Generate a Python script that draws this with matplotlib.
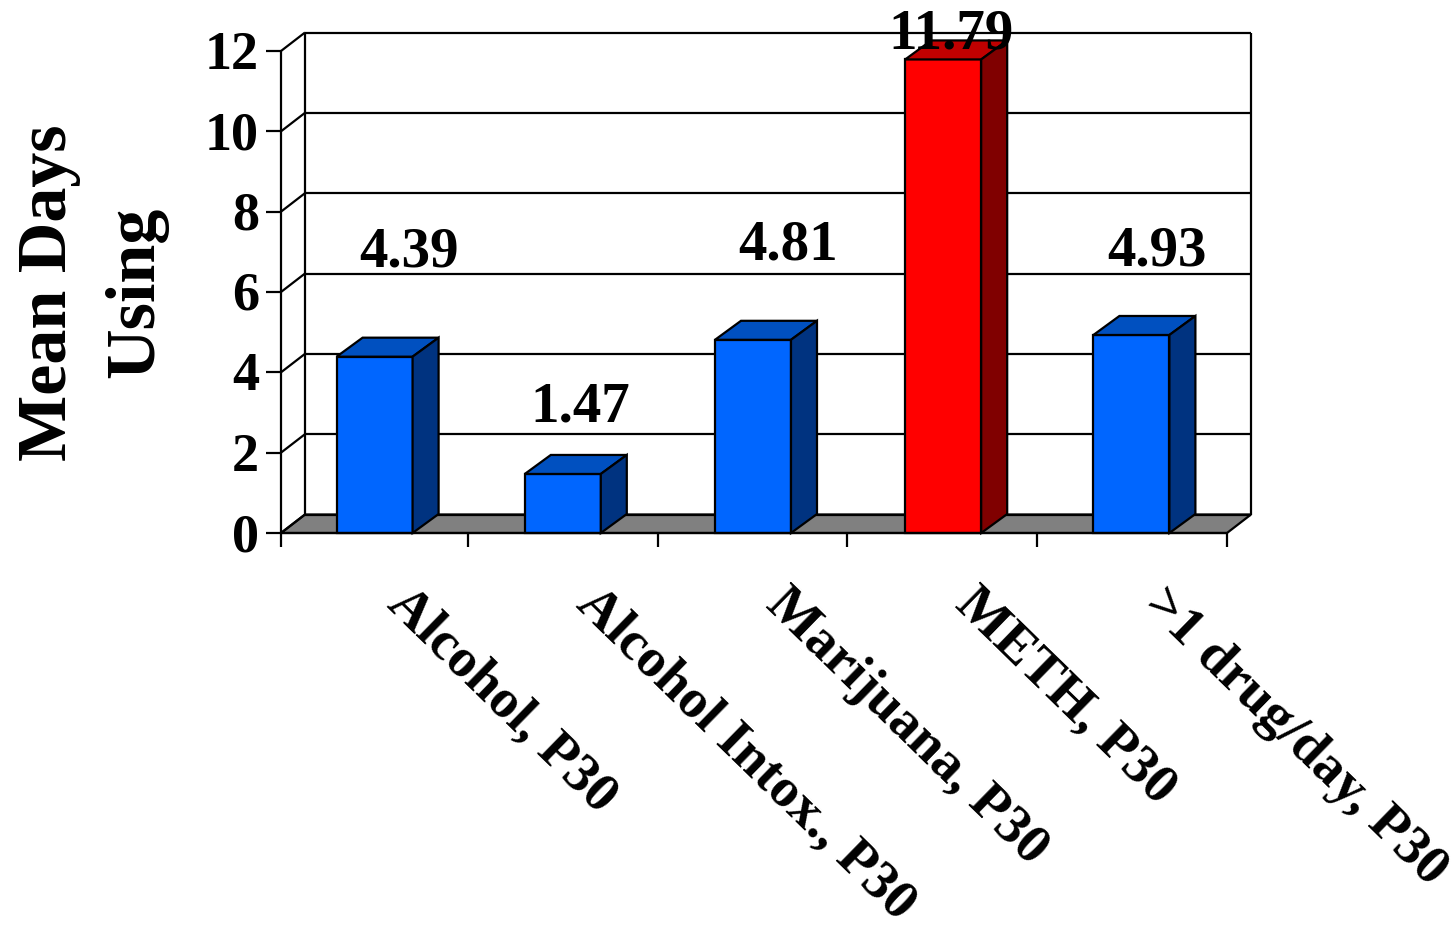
import matplotlib
matplotlib.use("Agg")
import matplotlib.pyplot as plt
from matplotlib.patches import Polygon

plt.rcParams["font.family"] = ["Liberation Serif", "DejaVu Serif"]
plt.rcParams["font.weight"] = "bold"

categories = ["Alcohol, P30", "Alcohol Intox., P30", "Marijuana, P30", "METH, P30", ">1 drug/day, P30"]
values = [4.39, 1.47, 4.81, 11.79, 4.93]
value_labels = ["4.39", "1.47", "4.81", "11.79", "4.93"]
yticks = [0, 2, 4, 6, 8, 10, 12]
bar_colors = ["#0066ff", "#0066ff", "#0066ff", "#ff0000", "#0066ff"]
top_colors = ["#0050c0", "#0050c0", "#0050c0", "#c00000", "#0050c0"]
side_colors = ["#003380", "#003380", "#003380", "#800000", "#003380"]
# where the value labels sit relative to their bar, in pixels
label_dx = [33, 15, 34, 8, 25]
label_dy = [110, 72, 100, 31, 89]
# small nudges so bars and category ticks land where the picture has them
bar_shift = [-1, -2, -1, 0, -1]
tick_shift = [0, -2, -1, -2, -1, 0]

W, H = 1456, 925
fig = plt.figure(figsize=(W / 100, H / 100), dpi=100)
# front plane of the 3d box, pixels
left, right, bottom, top = 281, 1227, 533, 51
ax = fig.add_axes([left / W, 1 - bottom / H, (right - left) / W, (bottom - top) / H])
ax.set_xlim(0, 5)
ax.set_ylim(0, 12)
ax.patch.set_visible(False)
for s in ax.spines.values():
    s.set_visible(False)
ax.set_xticks([])
ax.set_yticks([])

px = 5 / (right - left)
py = 12 / (bottom - top)
dx, dy = 24 * px, 18.5 * py
bar_dx, bar_dy = 26 * px, 19 * py
width = 76 * px


def poly(pts, fc, z):
    ax.add_patch(Polygon(pts, closed=True, fc=fc, ec="black", lw=1.6, clip_on=False, zorder=z))


def line(xs, ys, z=1, lw=1.6):
    ax.plot(xs, ys, color="black", lw=lw, clip_on=False, zorder=z, solid_capstyle="butt")


# floor and walls
poly([(0, 0), (5, 0), (5 + dx, dy), (dx, dy)], "#808080", 1)
line([dx, dx], [dy, 12 + dy])
line([5 + dx, 5 + dx], [dy, 12 + dy])
line([0, 0], [0, 12])
line([0, 5], [0, 0], z=4)
for t in yticks:
    line([dx, 5 + dx], [t + dy, t + dy])
    line([0, dx], [t, t + dy])
    line([-15 * px, 0], [t, t])
    ax.text(-22 * px, t + 1 * py, str(t), ha="right", va="center_baseline", fontsize=39)

# category ticks
for i in range(6):
    tx = i + tick_shift[i] * px
    line([tx, tx], [0, -14 * py], z=4)

for i, (v, lab) in enumerate(zip(values, value_labels)):
    x0 = i + 0.5 - width / 2 + bar_shift[i] * px
    x1 = x0 + width
    poly([(x0, 0), (x1, 0), (x1, v), (x0, v)], bar_colors[i], 3)
    poly([(x0, v), (x1, v), (x1 + bar_dx, v + bar_dy), (x0 + bar_dx, v + bar_dy)], top_colors[i], 3)
    poly([(x1, 0), (x1 + bar_dx, bar_dy), (x1 + bar_dx, v + bar_dy), (x1, v)], side_colors[i], 3)
    ax.text(i + 0.5 + label_dx[i] * px, v + label_dy[i] * py, lab, ha="center", va="center_baseline",
            fontsize=41, zorder=5)
    ax.text(i + 0.5 + 37 * px, -46 * py, categories[i], ha="left", va="top", fontsize=39.8,
            rotation=-44.3, rotation_mode="anchor", zorder=5)

fig.text(49 / W, 1 - 293 / H, "Mean Days", rotation=90, ha="center", va="center", fontsize=50.5)
fig.text(136 / W, 1 - 292 / H, "Using", rotation=90, ha="center", va="center", fontsize=50.5)

fig.savefig("out.png", dpi=100)
